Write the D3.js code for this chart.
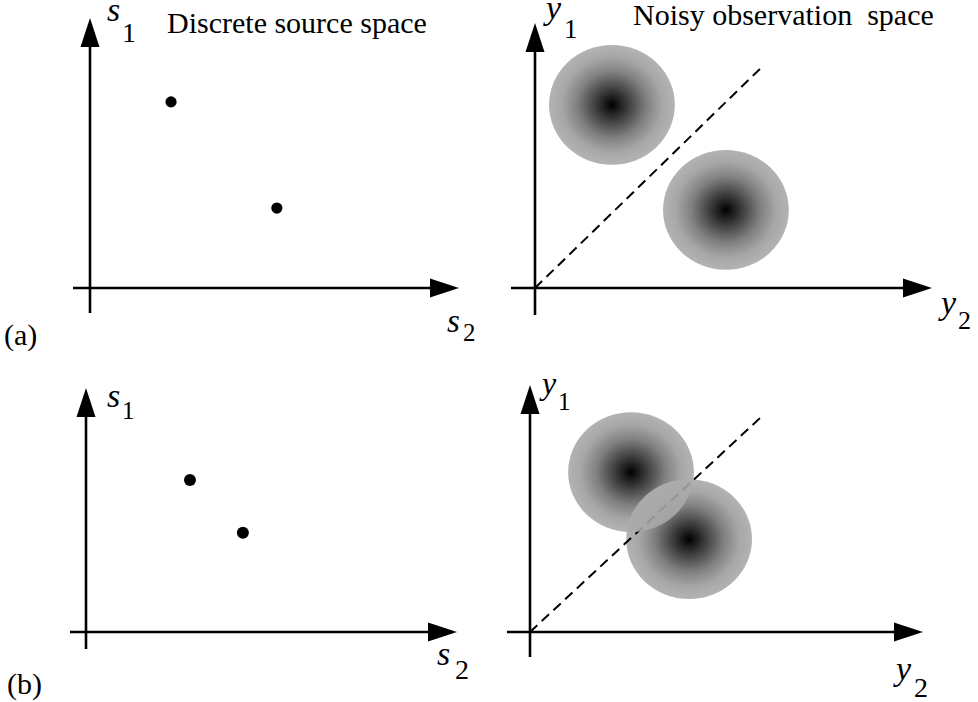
<!DOCTYPE html>
<html>
<head>
<meta charset="utf-8">
<script src="https://cdn.jsdelivr.net/npm/d3@7"></script>
<style>
  html, body { margin: 0; padding: 0; background: #fff; }
  svg { display: block; }
  svg text { font-family: Liberation Serif; }
</style>
</head>
<body>
<svg id="chart" width="978" height="702"></svg>
<script>
// ---------------- DATA (data units; 1 unit is the same on both axes) ----------------
const rowLabels = ["(a)", "(b)"];
const panelTitles = ["Discrete source space", "Noisy observation\u00a0 space"];
const sourceAxisNames = ["s", "s"];       // vertical / horizontal symbol
const sourceAxisSubs = ["1", "2"];
const obsAxisNames = ["y", "y"];
const obsAxisSubs = ["1", "2"];

// (a) well-separated source symbols and their noisy clouds
const sourcePointsA = [[2.19, 5.03], [5.05, 2.16]];
const noiseCentersA = [[2.08, 4.95], [5.16, 2.11]];
const boundaryA = [[0, 0], [6.16, 6.0]];

// (b) closer source symbols, overlapping clouds
const sourcePointsB = [[2.81, 4.11], [4.24, 2.68]];
const noiseCentersB = [[2.73, 4.32], [4.30, 2.51]];
const boundaryB = [[0, 0], [6.3, 5.86]];

const noiseRadius = [1.70, 1.62];   // rx, ry in data units

// ---------------- LAYOUT ----------------
const FONT = "Liberation Serif";
const K = 37; // pixels per data unit
const svg = d3.select("#chart");
const defs = svg.append("defs");

const grad = defs.append("radialGradient").attr("id", "cloud")
  .attr("cx", "50%").attr("cy", "50%").attr("r", "50%");
[[0, "#000"], [0.1, "#181818"], [0.3, "#474747"], [0.55, "#808080"], [0.8, "#a7a7a7"], [1, "#b3b3b3"]]
  .forEach(([o, c]) => grad.append("stop").attr("offset", o).attr("stop-color", c));

const panels = [
  { ox: 90,  oy: 288, x0: 73,  xt: 459, yt: 18,  y1: 313, type: "src", pts: sourcePointsA, r: 5.6,
    vLab: { x: 107, y: 21, sx: 122, sy: 42, fs: 34, ss: 28 },
    hLab: { x: 447, y: 332, sx: 463, sy: 341, fs: 33, ss: 25 } },
  { ox: 535, oy: 288, x0: 511, xt: 932, yt: 23,  y1: 315, type: "obs", pts: noiseCentersA, line: boundaryA,
    vLab: { x: 546, y: 19, sx: 564, sy: 38, fs: 34, ss: 27 },
    hLab: { x: 941, y: 314, sx: 958, sy: 329, fs: 34, ss: 26 } },
  { ox: 86,  oy: 632, x0: 70,  xt: 457, yt: 388, y1: 649, type: "src", pts: sourcePointsB, r: 6,
    vLab: { x: 107, y: 407, sx: 122, sy: 419, fs: 34, ss: 25 },
    hLab: { x: 437, y: 665, sx: 455, sy: 679, fs: 34, ss: 28 } },
  { ox: 530, oy: 632, x0: 507, xt: 923, yt: 385, y1: 657, type: "obs", pts: noiseCentersB, line: boundaryB, overlap: true,
    vLab: { x: 542, y: 394, sx: 558, sy: 410, fs: 32, ss: 25 },
    hLab: { x: 896, y: 680, sx: 914, sy: 697, fs: 34, ss: 28 } }
];

const AH_L = 29, AH_W = 9.5, SW = 2.6;

panels.forEach((p, i) => {
  const g = svg.append("g");
  const x = d3.scaleLinear().domain([0, 1]).range([p.ox, p.ox + K]);
  const y = d3.scaleLinear().domain([0, 1]).range([p.oy, p.oy - K]);

  if (p.type === "obs") {
    p.pts.forEach((c, j) => {
      g.append("ellipse")
        .attr("cx", x(c[0])).attr("cy", y(c[1]))
        .attr("rx", x(noiseRadius[0]) - x(0)).attr("ry", y(0) - y(noiseRadius[1]))
        .attr("fill", "url(#cloud)");
    });
    g.append("line")
      .attr("x1", x(p.line[0][0])).attr("y1", y(p.line[0][1]))
      .attr("x2", x(p.line[1][0])).attr("y2", y(p.line[1][1]))
      .attr("stroke", "#000").attr("stroke-width", 2).attr("stroke-dasharray", "10,6");
    if (p.overlap) {
      const cp = defs.append("clipPath").attr("id", "lensclip");
      const c0 = p.pts[0];
      cp.append("ellipse").attr("cx", x(c0[0])).attr("cy", y(c0[1]))
        .attr("rx", x(noiseRadius[0]) - x(0)).attr("ry", y(0) - y(noiseRadius[1]));
      const c1 = p.pts[1];
      g.append("ellipse").attr("clip-path", "url(#lensclip)")
        .attr("cx", x(c1[0])).attr("cy", y(c1[1]))
        .attr("rx", x(noiseRadius[0]) - x(0)).attr("ry", y(0) - y(noiseRadius[1]))
        .attr("fill", "#aaaaaa").attr("fill-opacity", 0.88);
    }
  } else {
    g.selectAll("circle.pt").data(p.pts).join("circle").attr("class", "pt")
      .attr("cx", d => x(d[0])).attr("cy", d => y(d[1])).attr("r", p.r).attr("fill", "#000");
  }

  // axes
  g.append("line").attr("x1", p.x0).attr("y1", p.oy).attr("x2", p.xt - AH_L + 2).attr("y2", p.oy)
    .attr("stroke", "#000").attr("stroke-width", SW);
  g.append("path").attr("d", `M${p.xt},${p.oy}L${p.xt - AH_L},${p.oy - AH_W}L${p.xt - AH_L},${p.oy + AH_W}Z`)
    .attr("fill", "#000");
  g.append("line").attr("x1", p.ox).attr("y1", p.y1).attr("x2", p.ox).attr("y2", p.yt + AH_L - 2)
    .attr("stroke", "#000").attr("stroke-width", SW);
  g.append("path").attr("d", `M${p.ox},${p.yt}L${p.ox - AH_W},${p.yt + AH_L}L${p.ox + AH_W},${p.yt + AH_L}Z`)
    .attr("fill", "#000");

  const names = p.type === "src" ? sourceAxisNames : obsAxisNames;
  const subs = p.type === "src" ? sourceAxisSubs : obsAxisSubs;
  [[p.vLab, 0], [p.hLab, 1]].forEach(([L, k]) => {
    g.append("text").attr("x", L.x).attr("y", L.y).attr("font-family", FONT).attr("font-size", L.fs)
      .attr("font-style", "italic").text(names[k]);
    g.append("text").attr("x", L.sx).attr("y", L.sy).attr("font-family", FONT).attr("font-size", L.ss).text(subs[k]);
  });
});

svg.append("text").attr("x", 167).attr("y", 33).attr("font-family", FONT).attr("font-size", 30).text(panelTitles[0]);
svg.append("text").attr("x", 633).attr("y", 25).attr("font-family", FONT).attr("font-size", 30).text(panelTitles[1]);
svg.append("text").attr("x", 4).attr("y", 345).attr("font-family", FONT).attr("font-size", 30).text(rowLabels[0]);
svg.append("text").attr("x", 7).attr("y", 694).attr("font-family", FONT).attr("font-size", 30).text(rowLabels[1]);
</script>
</body>
</html>
